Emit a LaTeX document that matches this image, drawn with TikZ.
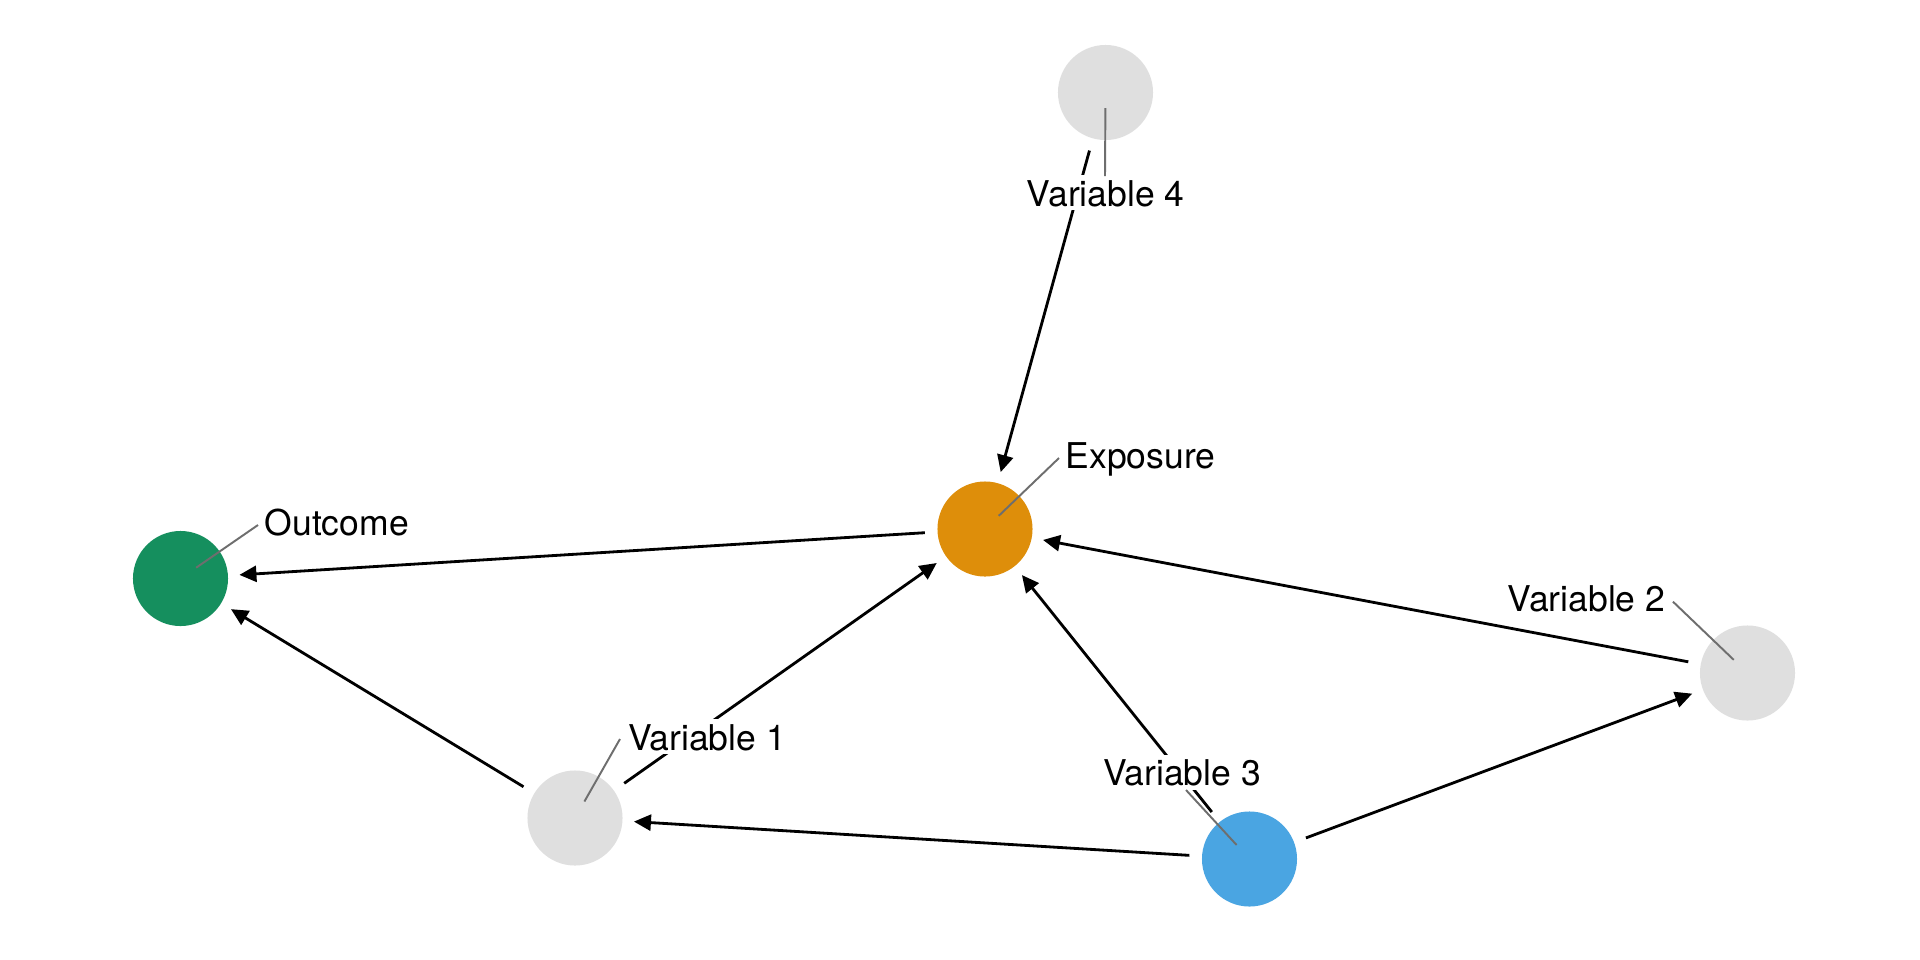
\documentclass[tikz,border=0pt]{standalone}
\usepackage{fontspec}
\setmainfont{TeX Gyre Heros}
\usetikzlibrary{arrows.meta}
\definecolor{ogreen}{HTML}{158F5E}
\definecolor{eorange}{HTML}{DE8E0A}
\definecolor{vblue}{HTML}{4AA5E2}
\definecolor{vgray}{HTML}{DFDFDF}
\definecolor{leadgray}{HTML}{6E6E6E}
\begin{document}
\begin{tikzpicture}[x=0.01cm,y=-0.01cm,
  vnode/.style={circle, minimum size=0.95cm, inner sep=0pt, outer sep=0.115cm},
  edge/.style={line width=0.8pt, -{Triangle[length=0.17cm,width=0.16cm]}, shorten <=0.012cm},
  lab/.style={fill=white, inner xsep=0.03cm, inner ysep=0pt, text height=0.87em, text depth=0.12em, font=\fontsize{10.1pt}{11pt}\selectfont},
  leader/.style={draw=leadgray, line width=0.55pt, shorten <=0.19cm}]
\fill[white] (0,0) rectangle (1920,960);
\useasboundingbox (0,0) rectangle (1920,960);
% nodes
\node[vnode, fill=ogreen] (O) at (180.5,578.5) {};
\node[vnode, fill=eorange] (E) at (985,529) {};
\node[vnode, fill=vgray] (V1) at (575,818) {};
\node[vnode, fill=vgray] (V2) at (1747.5,673) {};
\node[vnode, fill=vblue] (V3) at (1249.5,859) {};
\node[vnode, fill=vgray] (V4) at (1105.5,92.5) {};
% edges
\draw[edge] (E) -- (O);
\draw[edge] (V1) -- (O);
\draw[edge] (V1) -- (E);
\draw[edge] (V2) -- (E);
\draw[edge] (V3) -- (E);
\draw[edge] (V3) -- (V1);
\draw[edge] (V3) -- (V2);
\draw[edge] (V4) -- (E);
% leader end points
\coordinate (lO) at (258,525);
\coordinate (lE) at (1059,458);
\coordinate (l1) at (620,739);
\coordinate (l2) at (1673,601.7);
\coordinate (l3) at (1186,790);
\coordinate (l4) at (1105,176);
% labels
\node[lab, anchor=base west] (tO) at (261,535.4) {Outcome};
\node[lab, anchor=base west] (tE) at (1062,468.3) {Exposure};
\node[lab, anchor=base west] (t1) at (624.5,750) {Variable 1};
\node[lab, anchor=base east] (t2) at (1669,611.7) {Variable 2};
\node[lab, anchor=base west] (t3) at (1099.5,785.7) {Variable 3};
\node[lab, anchor=base west] (t4) at (1023,206) {Variable 4};
% leaders
\draw[leader] (O.center) -- (lO);
\draw[leader] (E.center) -- (lE);
\draw[leader] (V1.center) -- (l1);
\draw[leader] (V2.center) -- (l2);
\draw[leader] (V3.center) -- (l3);
\draw[leader, shorten <=0.155cm] (V4.center) -- (l4);
\end{tikzpicture}
\end{document}
